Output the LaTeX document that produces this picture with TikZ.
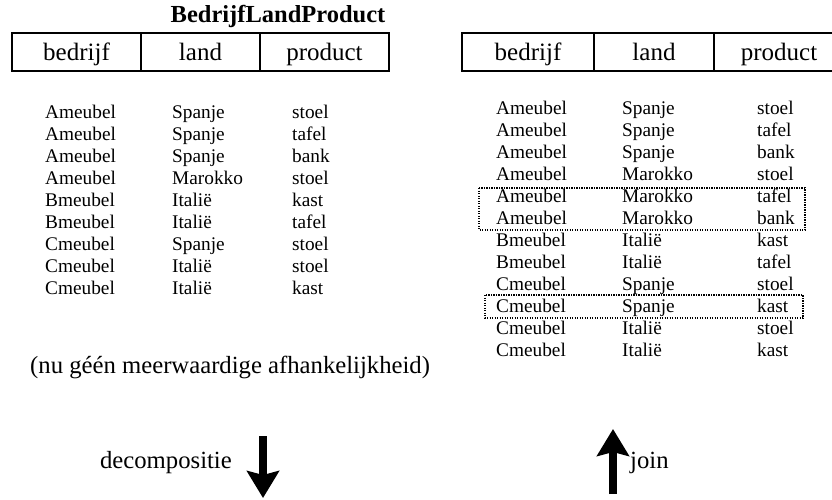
\documentclass[tikz,border=0pt]{standalone}
\usepackage{fontspec}
\setmainfont{Liberation Serif}
\usetikzlibrary{arrows.meta}
\begin{document}
\begin{tikzpicture}[x=1pt,y=-1pt,
  title/.style={font=\fontsize{24.5}{28}\selectfont\bfseries, anchor=base, inner sep=0},
  hcell/.style={draw, line width=1.3pt, minimum height=38pt, inner sep=0,
    font=\fontsize{25}{28}\selectfont, text height=18pt, text depth=2pt},
  row/.style={font=\fontsize{19.3}{22}\selectfont, anchor=base west, inner sep=0},
  note/.style={font=\fontsize{24.7}{28}\selectfont, anchor=base west, inner sep=0},
  grp/.style={draw, line width=1.2pt, dash pattern=on 1.2pt off 1.3pt},
  bigarrow/.style={line width=7.5pt, -{Stealth[length=27pt,width=32pt,inset=4pt]}}]
\useasboundingbox (0,0) rectangle (832,499);
\clip (0,0) rectangle (832,499);

% original relation
\node[title] (name) at (278,22) {BedrijfLandProduct};
\node[hcell, minimum width=129pt] (lb) at (76.5,52) {bedrijf};
\node[hcell, minimum width=119pt] (ll) at (200.5,52) {land};
\node[hcell, minimum width=129pt] (lp) at (324.5,52) {product};

\foreach \b/\l/\p [count=\i from 0] in {
  Ameubel/Spanje/stoel, Ameubel/Spanje/tafel, Ameubel/Spanje/bank,
  Ameubel/Marokko/stoel, Bmeubel/Italië/kast, Bmeubel/Italië/tafel,
  Cmeubel/Spanje/stoel, Cmeubel/Italië/stoel, Cmeubel/Italië/kast} {
  \node[row] (La\i) at (45,{118.3+22*\i}) {\b};
  \node[row] (Lb\i) at (172,{118.3+22*\i}) {\l};
  \node[row] (Lc\i) at (292,{118.3+22*\i}) {\p};
}

\node[note] (remark) at (30,373) {(nu géén meerwaardige afhankelijkheid)};

% joined result
\node[hcell, minimum width=132pt] (rb) at (528,52) {bedrijf};
\node[hcell, minimum width=120pt] (rl) at (654,52) {land};
\node[hcell, minimum width=130pt] (rp) at (779,52) {product};

\foreach \b/\l/\p [count=\i from 0] in {
  Ameubel/Spanje/stoel, Ameubel/Spanje/tafel, Ameubel/Spanje/bank,
  Ameubel/Marokko/stoel, Ameubel/Marokko/tafel, Ameubel/Marokko/bank,
  Bmeubel/Italië/kast, Bmeubel/Italië/tafel, Cmeubel/Spanje/stoel,
  Cmeubel/Spanje/kast, Cmeubel/Italië/stoel, Cmeubel/Italië/kast} {
  \node[row] (Ra\i) at (496,{114+22*\i}) {\b};
  \node[row] (Rb\i) at (622,{114+22*\i}) {\l};
  \node[row] (Rc\i) at (757,{114+22*\i}) {\p};
}

% spurious tuples
\draw[grp] (479,188) rectangle (805,230);
\draw[grp] (485,295) rectangle (803,318);

% decomposition and join arrows
\coordinate (dtop) at (263,436);
\coordinate (dbot) at (263,498);
\coordinate (jbot) at (613,494);
\coordinate (jtop) at (613,429);
\draw[bigarrow] (dtop) -- (dbot);
\draw[bigarrow] (jbot) -- (jtop);
\node[note, anchor=base east] (dlab) at (232,468) {decompositie};
\node[note] (jlab) at (630,468) {join};
\end{tikzpicture}
\end{document}
